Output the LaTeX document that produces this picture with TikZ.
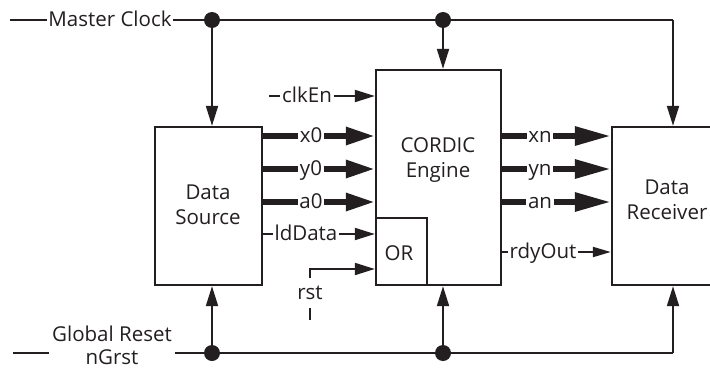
\documentclass[tikz,border=0pt]{standalone}
\usepackage{fontspec}
\setmainfont{Open Sans}
\usetikzlibrary{arrows.meta}
\definecolor{ink}{HTML}{231F20}
\tikzset{
  blk/.style={draw=ink, line width=2.4pt, rectangle, inner sep=0pt},
  txt/.style={align=center, inner sep=0pt, text=ink, font=\fontsize{20.5}{25}\selectfont},
  lab/.style={inner sep=1.5pt, text height=15pt, text depth=3pt, text=ink, font=\fontsize{20.5}{25}\selectfont},
  wire/.style={line width=2pt, draw=ink},
  bus/.style={line width=6pt, draw=ink},
  tip/.style={-{Triangle[length=20pt,width=12pt]}},
  smalltip/.style={-{Triangle[length=18pt,width=10pt]}},
  bigtip/.style={-{Triangle[length=29pt,width=17pt]}},
  hugetip/.style={-{Triangle[length=36pt,width=18pt]}},
  dot/.style={circle, fill=ink, inner sep=0pt, minimum size=16pt},
}
\begin{document}
\begin{tikzpicture}[x=1pt,y=-1pt]
\useasboundingbox (0,0) rectangle (710,370);
\clip (0,0) rectangle (710,370);
\fill[white] (0,0) rectangle (710,370);

% blocks
\node[blk, minimum width=107pt, minimum height=158pt] (DS) at (208.5,206) {};
\node[txt] (DSt) at (208,205) {Data\\Source};
\node[blk, minimum width=125pt, minimum height=215pt] (CE) at (438.5,177.5) {};
\node[txt] (CEt) at (438,160) {CORDIC\\Engine};
\node[blk, minimum width=51pt, minimum height=67pt, anchor=south west] (OR) at (CE.south west) {};
\node[txt] (ORt) at (399,253) {OR};
\node[blk, minimum width=110pt, minimum height=158pt] (DR) at (667,206) {};
\node[txt] (DRt) at (667,200) {Data\\Receiver};

% master clock
\coordinate (mcs) at (10,20);
\node[lab, inner sep=1pt] (MC) at (110,20) {Master Clock};
\node[dot] (d1) at (212,20) {};
\node[dot] (d2) at (443,20) {};
\coordinate (c1) at (673,20);
\draw[wire] (mcs) -- (MC.west);
\draw[wire] (MC.east) -- (d1.center) -- (d2.center) -- (c1);
\draw[wire,tip] (c1) -- (c1 |- DR.north);
\draw[wire,tip] (d1.center) -- (d1 |- DS.north);
\draw[wire,tip] (d2.center) -- (d2 |- CE.north);

% global reset
\coordinate (rs) at (13,353);
\node[txt, inner sep=3pt, font=\fontsize{20.5}{23}\selectfont] (GR) at (112,345) {Global Reset\\nGrst};
\node[dot] (r1) at (212,353) {};
\node[dot] (r2) at (443,353) {};
\coordinate (c2) at (673,353);
\draw[wire] (rs) -- (GR.west |- rs);
\draw[wire] (GR.east |- rs) -- (r1.center) -- (r2.center) -- (c2);
\draw[wire,tip] (c2) -- (c2 |- DR.south);
\draw[wire,tip] (r1.center) -- (r1 |- DS.south);
\draw[wire,tip] (r2.center) -- (r2 |- CE.south);

% clkEn
\coordinate (ck) at (269,96);
\node[lab] (clk) at (307,96) {clkEn};
\draw[wire] (ck) -- (clk.west);
\draw[wire,tip] (clk.east) -- (CE.west |- clk);

% input buses
\node[lab] (x0) at (311,136) {x0};
\node[lab] (y0) at (311,169) {y0};
\node[lab] (a0) at (311,202) {a0};
\foreach \s in {x0,y0,a0} {
  \draw[bus] (DS.east |- \s) -- (\s.west);
  \draw[bus,bigtip] (\s.east) -- (CE.west |- \s);
}
\node[lab] (ld) at (306,234) {ldData};
\draw[wire] (DS.east |- ld) -- (ld.west);
\draw[wire,tip] (ld.east) -- (CE.west |- ld);

% rst
\coordinate (rb) at (310,320);
\coordinate (rc) at (310,269);
\node[txt, minimum height=30pt] (rst) at (310,293) {rst};
\draw[wire] (rb) -- (rst.south);
\draw[wire,tip] (rst.north) -- (rc) -- (OR.west |- rc);

% output buses
\node[lab] (xn) at (540,136) {xn};
\node[lab] (yn) at (540,169) {yn};
\node[lab] (an) at (540,202) {an};
\foreach \s in {xn,yn,an} {
  \draw[bus] (CE.east |- \s) -- (\s.west);
  \draw[bus,hugetip] (\s.east) -- (DR.west |- \s);
}
\node[lab] (rdy) at (543,252) {rdyOut};
\draw[wire] (CE.east |- rdy) -- (rdy.west);
\draw[wire,smalltip] (rdy.east) -- (DR.west |- rdy);
\end{tikzpicture}
\end{document}
